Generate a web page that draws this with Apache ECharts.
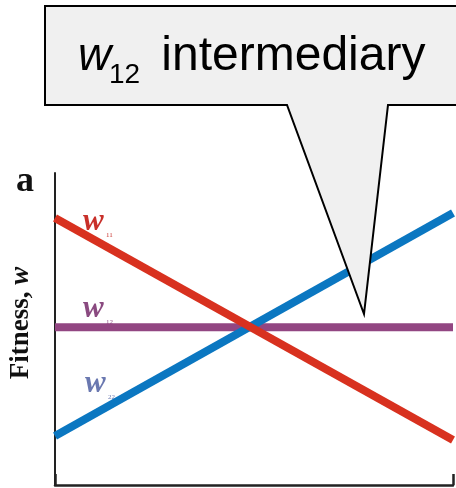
<!DOCTYPE html>
<html>
<head>
<meta charset="utf-8">
<script src="https://cdn.jsdelivr.net/npm/echarts@6/dist/echarts.min.js"></script>
<style>html,body{margin:0;padding:0;background:#fff}#c{width:456px;height:488px}</style>
</head>
<body>
<div id="c"></div>
<script>
// Data (arbitrary fitness units, 0..10 scale)
var xValues = [0, 100];
var w11 = [8.56, 1.44];
var w12 = [5.06, 5.06];
var w22 = [1.57, 8.72];
var seriesNames = ['w11', 'w12', 'w22'];
var calloutText = ['w', '12', ' intermediary'];
var yAxisLabel = 'Fitness, w';
var panelLabel = 'a';

var chart = echarts.init(document.getElementById('c'), null, {renderer: 'canvas'});
function pts(ys) { return xValues.map(function (x, i) { return [x, ys[i]]; }); }

var serif = '"Liberation Serif", "DejaVu Serif", serif';
var sans = '"Liberation Sans", Arial, sans-serif';

function wLabel(x, y, color, sub) {
  return {
    type: 'group', z: 50, children: [
      {type: 'text', x: x, y: y, style: {text: 'w', font: 'italic bold 31px ' + serif, fill: color, verticalAlign: 'middle'}},
      {type: 'text', x: x + 23, y: y + 13, style: {text: sub, font: '7px ' + serif, fill: color, verticalAlign: 'middle'}}
    ]
  };
}

chart.setOption({
  animation: false,
  backgroundColor: '#ffffff',
  grid: {left: 55, right: 3, top: 173, bottom: 3, containLabel: false},
  xAxis: {
    type: 'value', min: 0, max: 100, interval: 100,
    axisLine: {show: true, lineStyle: {color: '#222', width: 2.5}},
    axisTick: {show: true, inside: true, length: 11, lineStyle: {color: '#222', width: 2.5}},
    axisLabel: {show: false}, splitLine: {show: false}
  },
  yAxis: {
    type: 'value', min: 0, max: 10,
    axisLine: {show: true, lineStyle: {color: '#222', width: 2}},
    axisTick: {show: false}, axisLabel: {show: false}, splitLine: {show: false}
  },
  series: [
    {name: seriesNames[1], type: 'line', data: pts(w12), symbol: 'none', z: 2,
     lineStyle: {color: '#924682', width: 8}},
    {name: seriesNames[2], type: 'line', data: pts(w22), symbol: 'none', z: 3,
     lineStyle: {color: '#0b77c1', width: 8}},
    {name: seriesNames[0], type: 'line', data: pts(w11), symbol: 'none', z: 4,
     lineStyle: {color: '#d8311f', width: 8}}
  ],
  graphic: [
    {type: 'text', x: 16, y: 182, z: 50, style: {text: panelLabel, font: 'bold 36px ' + serif, fill: '#111', verticalAlign: 'middle'}},
    {type: 'text', x: 21, y: 323, rotation: Math.PI / 2, z: 50,
     style: {rich: {a: {font: 'bold 27px ' + serif, fill: '#111'}, b: {font: 'italic bold 27px ' + serif, fill: '#111'}},
             text: '{a|Fitness, }{b|w}', align: 'center', verticalAlign: 'middle'}},
    wLabel(83, 222, '#c8302a', '11'),
    wLabel(83, 309, '#8a4a80', '12'),
    wLabel(85, 384, '#6a78b0', '22'),
    {type: 'polygon', z: 100,
     shape: {points: [[45, 6], [470, 6], [470, 105], [388, 105], [364, 314], [287, 105], [45, 105]]},
     style: {fill: '#f0f0f0', stroke: '#000', lineWidth: 2, lineJoin: 'miter'}},
    {type: 'text', x: 78, y: 57, z: 101, style: {text: calloutText[0], font: 'italic 46px ' + sans, fill: '#000', verticalAlign: 'middle'}},
    {type: 'text', x: 109, y: 75, z: 101, style: {text: calloutText[1], font: '28px ' + sans, fill: '#000', verticalAlign: 'middle'}},
    {type: 'text', x: 148, y: 57, z: 101, style: {text: calloutText[2], font: '48px ' + sans, fill: '#000', verticalAlign: 'middle'}}
  ]
});
</script>
</body>
</html>
